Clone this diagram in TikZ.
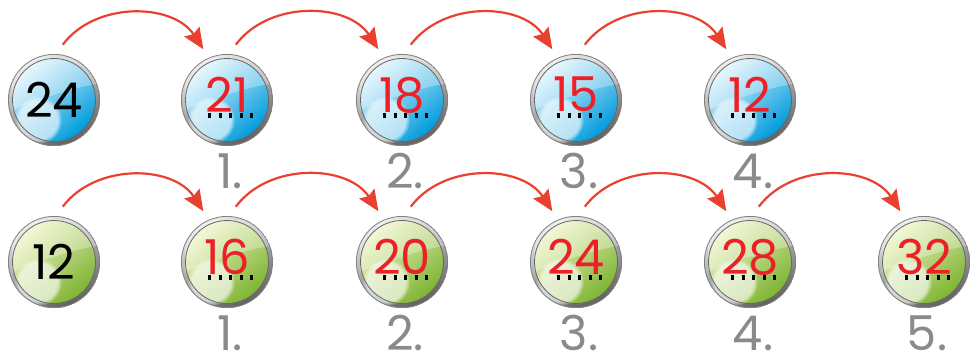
\documentclass[tikz,border=0pt]{standalone}
\usepackage{fontspec}
\setmainfont{Poppins}
\usetikzlibrary{arrows.meta,fadings}
\definecolor{arrowred}{RGB}{234,64,48}
\definecolor{numred}{RGB}{236,32,38}
\definecolor{idxgray}{RGB}{138,138,138}
\definecolor{bluelt}{RGB}{222,244,253}
\definecolor{bluedk}{RGB}{0,156,220}
\definecolor{greenlt}{RGB}{238,244,196}
\definecolor{greendk}{RGB}{126,180,50}
\def\numfont{\fontsize{48}{48}\selectfont}
\def\ctr{(path picture bounding box.center)}
\def\glass#1#2{%
  \shade[top color=black!8, bottom color=black!62, shading angle=25] \ctr circle (46);
  \shade[top color=#1, bottom color=#2, shading angle=40] \ctr circle (41.5);
  \fill[white, opacity=.3] \ctr ++(-42,-10) .. controls +(30,12) and +(-24,-4) .. ++(84,26) -- ++(0,26) -- ++(-84,0) -- cycle;
  \fill[white, opacity=.65, path fading=circle with fuzzy edge 20 percent] \ctr ++(-16,-20) circle (24);
  \draw[black!60, line width=.8pt] \ctr circle (41.5);
  \draw[black!50, line width=.8pt] \ctr circle (45.6);}

\begin{document}
\begin{tikzpicture}[x=1pt, y=1pt, >={Stealth[length=21pt, width=18pt, inset=3pt]},
	ball/.style 2 args={circle, minimum size=92pt, inner sep=0pt, outer sep=10pt, font=\numfont, path picture={\glass{#1}{#2}}},
	blueball/.style={ball={bluelt}{bluedk}},
	greenball/.style={ball={greenlt}{greendk}},
	answer/.style={text=numred, text depth=11pt},
	idx/.style={text=idxgray, font=\numfont, text depth=0pt, inner sep=0pt},
	hop/.style={->, draw=arrowred, line width=2.2pt, bend left=55},
	blanks/.style={line width=5pt, dash pattern=on 3pt off 7.5pt}]
	\useasboundingbox (0,0) rectangle (971,-361);
	% top row: minus 3
	\draw (54,-100) node[blueball](a0){24};
	\draw (227,-100) node[blueball, answer](a1){21};
	\draw (402,-100) node[blueball, answer](a2){18};
	\draw (576,-100) node[blueball, answer](a3){15};
	\draw (750,-100) node[blueball, answer](a4){12};
	% bottom row: plus 4
	\draw (54,-262) node[greenball](b0){12};
	\draw (227,-262) node[greenball, answer](b1){16};
	\draw (402,-262) node[greenball, answer](b2){20};
	\draw (576,-262) node[greenball, answer](b3){24};
	\draw (750,-262) node[greenball, answer](b4){28};
	\draw (924,-262) node[greenball, answer](b5){32};
	% step numbers
	\draw (230,-171) node[idx](ia1){1.};
	\draw (405,-171) node[idx](ia2){2.};
	\draw (579,-171) node[idx](ia3){3.};
	\draw (753,-171) node[idx](ia4){4.};
	\draw (230,-333) node[idx](ib1){1.};
	\draw (405,-333) node[idx](ib2){2.};
	\draw (579,-333) node[idx](ib3){3.};
	\draw (753,-333) node[idx](ib4){4.};
	\draw (927,-333) node[idx](ib5){5.};
	% dotted answer lines
	\foreach \n in {a1,a2,a3,a4,b1,b2,b3,b4,b5}
		\draw[blanks] ([shift={(-19,-15)}]\n.center) -- ++(45,0);
	% hops
	\path (a0.81) edge[hop] (a1.115);
	\path (a1.81) edge[hop] (a2.115);
	\path (a2.81) edge[hop] (a3.115);
	\path (a3.81) edge[hop] (a4.115);
	\path (b0.81) edge[hop] (b1.115);
	\path (b1.81) edge[hop] (b2.115);
	\path (b2.81) edge[hop] (b3.115);
	\path (b3.81) edge[hop] (b4.115);
	\path (b4.81) edge[hop] (b5.115);
\end{tikzpicture}
\end{document}
